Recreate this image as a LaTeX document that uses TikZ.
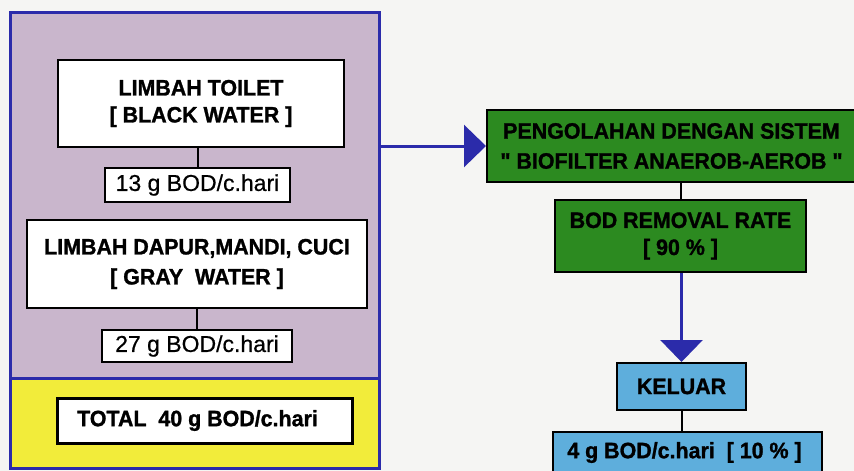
\documentclass[tikz,border=0pt]{standalone}
\usepackage{fontspec}
\setmainfont{Liberation Sans}[Ligatures=TeXOff, BoldFeatures={FakeBold=1.2, FakeStretch=0.96}, UprightFeatures={FakeBold=0.6}]
\usetikzlibrary{arrows.meta}
\definecolor{bgc}{HTML}{F5F5F3}
\definecolor{purp}{HTML}{C9B6CC}
\definecolor{yel}{HTML}{F2EC3A}
\definecolor{grn}{HTML}{2C8A20}
\definecolor{lblue}{HTML}{5EAEDC}
\definecolor{dblue}{HTML}{2B2BAA}
\tikzset{
  panel/.style={draw=dblue, line width=3pt, rectangle, inner sep=0pt},
  whitebox/.style={draw=black, line width=2pt, fill=white, rectangle, inner sep=0pt, align=center,
    font=\fontsize{22.3}{28}\selectfont\bfseries},
  valbox/.style={draw=black, line width=2pt, fill=white, rectangle, inner sep=0pt, align=center,
    font=\fontsize{23}{28}\selectfont},
  greenbox/.style={draw=black, line width=2pt, fill=grn, rectangle, inner sep=0pt, align=center,
    font=\fontsize{22.3}{30}\selectfont\bfseries},
  bluebox/.style={draw=black, line width=2pt, fill=lblue, rectangle, inner sep=0pt, align=center,
    font=\fontsize{22.3}{28}\selectfont\bfseries},
  link/.style={draw=black, line width=2pt},
  flow/.style={draw=dblue, line width=3pt, -{Triangle[width=42pt,length=22pt]}},
}
\begin{document}
\begin{tikzpicture}[x=1pt,y=-1pt]
\fill[bgc] (0,0) rectangle (854,471);
\useasboundingbox (0,0) rectangle (854,471);
% left panels
\node[panel, fill=purp, minimum width=369pt, minimum height=366pt] (pur) at (194.5,195) {};
\node[panel, fill=yel, minimum width=369pt, minimum height=90pt] (yl) at (194.5,423) {};
% left boxes
\node[whitebox, minimum width=286pt, minimum height=87pt, font=\fontsize{22.3}{27}\selectfont\bfseries] (t1) at (201,103.5) {LIMBAH TOILET\\{[} BLACK WATER ]};
\node[valbox, minimum width=185pt, minimum height=34pt] (s1) at (197.5,185) {13 g BOD/c.hari};
\node[whitebox, minimum width=340pt, minimum height=88pt, font=\fontsize{22.3}{30}\selectfont\bfseries] (t2) at (197,264) {LIMBAH DAPUR,MANDI, CUCI\\{[} GRAY\ \ WATER ]\hspace{30pt}};
\node[valbox, minimum width=190pt, minimum height=32pt] (s2) at (197,346) {27 g BOD/c.hari};
\node[whitebox, line width=3pt, minimum width=295pt, minimum height=45pt] (tot) at (204.5,420.5) {TOTAL\ \ 40 g BOD/c.hari\hspace{14pt}};
\draw[link] (s1.north |- t1.south) -- (s1.north);
\draw[link] (s2.north |- t2.south) -- (s2.north);
% right boxes
\node[greenbox, minimum width=369pt, minimum height=72pt] (g1) at (671.5,146) {PENGOLAHAN DENGAN SISTEM\hspace{12pt}\\" BIOFILTER ANAEROB-AEROB "\hspace{12pt}};
\node[greenbox, minimum width=251pt, minimum height=72pt, font=\fontsize{22.3}{27}\selectfont\bfseries] (g2) at (680.5,236) {BOD REMOVAL RATE\\{[} 90 \% ]};
\node[bluebox, minimum width=129pt, minimum height=47pt] (k) at (681.5,386.5) {KELUAR};
\node[bluebox, minimum width=269pt, minimum height=41pt] (f) at (687.5,452.5) {4 g BOD/c.hari\ \ [ 10 \% ]\hspace{6pt}};
\draw[link] (g2.north |- g1.south) -- (g2.north);
\draw[link] (f.north -| k.south) -- (k.south);
% blue arrows
\draw[flow] (pur.east |- g1.west) -- (g1.west);
\draw[flow] (g2.south -| k.north) -- (k.north);
\end{tikzpicture}
\end{document}
